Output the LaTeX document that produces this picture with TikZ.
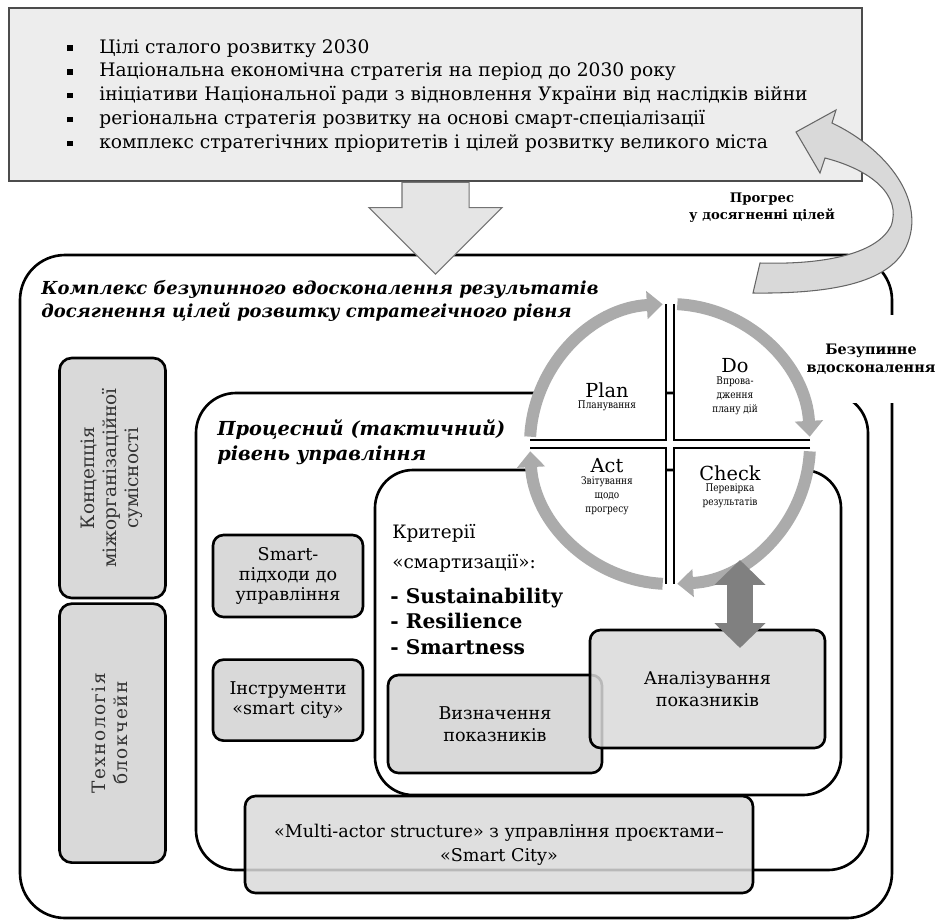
\documentclass[tikz,border=0pt]{standalone}
\usepackage{fontspec}
\setmainfont{DejaVu Serif}
\newfontfamily\narrowfont[FakeStretch=0.85]{DejaVu Serif}
\usepackage{graphicx}
\usepackage{tikz}
\usetikzlibrary{positioning,calc,shapes.arrows,arrows.meta}
\newlength{\unitpx}
\setlength{\unitpx}{0.02cm}
\newcommand{\sqbullet}{\makebox[32\unitpx][l]{\rule[0.25ex]{3.2pt}{3.2pt}}}

\begin{document}
\begin{tikzpicture}[
        x=0.02cm, y=-0.02cm,
        font=\fontsize{10}{12}\selectfont,
        >=Stealth,
        node distance=3\unitpx,
        goals/.style={rectangle,draw=black!70,line width=0.8pt,fill=black!7,minimum width=853\unitpx,minimum height=173\unitpx},
        bullets/.style={align=left,inner sep=0pt,font=\fontsize{10.6}{13.6}\selectfont},
        level/.style={rectangle,draw,line width=1.5pt},
        leveltitle/.style={align=left,inner sep=0pt,font=\bfseries\itshape\fontsize{10.2}{13.5}\selectfont},
        lane/.style={rectangle,draw,line width=1.5pt,rounded corners=7pt,fill=black!15,text=black!80,minimum width=106\unitpx,font=\fontsize{10.5}{12.5}\selectfont},
        greybox/.style={rectangle,draw,line width=1.5pt,rounded corners=6pt,fill=black!15,align=center,inner sep=0pt,font=\fontsize{10}{11.5}\selectfont},
        flowarrow/.style={single arrow,draw=black!55,fill=black!10,line width=0.6pt,inner xsep=0pt,inner ysep=33\unitpx,single arrow head extend=33\unitpx},
        band/.style={draw=black!60,fill=black!15,line width=0.6pt},
        ring/.style={draw=black!33,line width=6.8pt,-{Triangle[width=15.5pt,length=9pt]}},
        quadline/.style={line width=1.5pt},
        phase/.style={inner sep=1pt,font=\fontsize{11}{13}\selectfont},
        phasenote/.style={inner sep=0pt,align=center,font=\narrowfont\fontsize{6}{8}\selectfont},
        critlabel/.style={anchor=west,align=left,inner sep=0pt,font=\fontsize{10.5}{17}\selectfont},
        critlist/.style={anchor=west,align=left,inner sep=0pt,font=\bfseries\fontsize{11.5}{14.5}\selectfont},
        sidenote/.style={align=center,inner sep=0pt,font=\bfseries\fontsize{8.2}{10}\selectfont},
        dblarrow/.style={draw=black!50,line width=14.7pt,{Triangle[width=28.3pt,length=14.2pt]}-{Triangle[width=28.3pt,length=14.2pt]}}
    ]
        \useasboundingbox (0,0) rectangle (938,921);

        % strategic goals
        \node[goals] (goals) at (435.5,94.5) {};
        \node[bullets,anchor=west] (goalslist) at (67,96) {\sqbullet Цілі сталого розвитку 2030\\
            \sqbullet Національна економічна стратегія на період до 2030 року\\
            \sqbullet ініціативи Національної ради з відновлення України від наслідків війни\\
            \sqbullet регіональна стратегія розвитку на основі смарт-спеціалізації\\
            \sqbullet комплекс стратегічних пріоритетів і цілей розвитку великого міста};

        % levels
        \node[level,rounded corners=45\unitpx,minimum width=872\unitpx,minimum height=663\unitpx] (strategic) at (456,586.5) {};
        \node[leveltitle,anchor=west] (strategictitle) at (41,301) {Комплекс безупинного вдосконалення результатів\\досягнення цілей розвитку стратегічного рівня};

        \node[lane,minimum height=240\unitpx] (interop) at (112.5,478) {\rotatebox{90}{\begin{tabular}{@{}c@{}}Концепція\\міжорганізаційної\\сумісності\end{tabular}}};
        \node[lane,minimum height=259\unitpx,below=of interop] (chain) {\rotatebox{90}{\addfontfeature{LetterSpace=8}\begin{tabular}{@{}c@{}}Технологія\\блокчейн\end{tabular}}};

        \node[level,rounded corners=40\unitpx,minimum width=672\unitpx,minimum height=477\unitpx] (tactical) at (532,631.5) {};
        \node[leveltitle,anchor=west,font=\bfseries\itshape\fontsize{11}{14}\selectfont] (tacticaltitle) at (217,442.5) {Процесний (тактичний)\\рівень управління};

        \node[greybox,minimum width=150\unitpx,minimum height=82\unitpx] (smart) at (288,576) {Smart-\\підходи до\\управління};
        \node[greybox,minimum width=150\unitpx,minimum height=81\unitpx,below=40\unitpx of smart] (tools) {Інструменти\\«smart city»};

        \node[level,rounded corners=38\unitpx,minimum width=466\unitpx,minimum height=325\unitpx] (criteria) at (608,632.5) {};
        \node[critlabel] (critname) at (392,548) {Критерії\\«смартизації»:};
        \node[critlist] (crititems) at (390,621) {- Sustainability\\- Resilience\\- Smartness};

        \node[greybox,minimum width=214\unitpx,minimum height=98\unitpx,font=\fontsize{10}{12.5}\selectfont] (define) at (495,724) {Визначення\\показників};
        \node[greybox,fill opacity=0.85,text opacity=1,minimum width=235\unitpx,minimum height=118\unitpx,font=\fontsize{10}{12.5}\selectfont] (analyse) at (707.5,689) {Аналізування\\показників};
        \node[greybox,fill opacity=0.85,text opacity=1,minimum width=508\unitpx,minimum height=97\unitpx,font=\fontsize{10}{13.6}\selectfont] (multi) at (499,844.5) {«Multi-actor structure» з управління проєктами–\\«Smart City»};

        \node[sidenote,fill=white,minimum height=88\unitpx] (kaizen) at (871,359) {Безупинне\\вдосконалення};

        % PDCA
        \coordinate (hub) at (670,444);
        \fill[white] (hub) ++(-4,-4) -- ++(-136,0) arc[start angle=-180,end angle=-90,radius=136] -- cycle;
        \fill[white] (hub) ++(4,-4) -- ++(0,-136) arc[start angle=-90,end angle=0,radius=136] -- cycle;
        \fill[white] (hub) ++(4,4) -- ++(136,0) arc[start angle=0,end angle=90,radius=136] -- cycle;
        \fill[white] (hub) ++(-4,4) -- ++(0,136) arc[start angle=90,end angle=180,radius=136] -- cycle;
        \draw[quadline] (hub) ++(-140,-4) -- ++(136,0) -- ++(0,-136);
        \draw[quadline] (hub) ++(140,-4) -- ++(-136,0) -- ++(0,-136);
        \draw[quadline] (hub) ++(140,4) -- ++(-136,0) -- ++(0,136);
        \draw[quadline] (hub) ++(-140,4) -- ++(136,0) -- ++(0,136);
        \draw[ring] (hub) ++(-177:140) arc[start angle=-177,end angle=-93,radius=140];
        \draw[ring] (hub) ++(-87:140) arc[start angle=-87,end angle=-3,radius=140];
        \draw[ring] (hub) ++(3:140) arc[start angle=3,end angle=87,radius=140];
        \draw[ring] (hub) ++(93:140) arc[start angle=93,end angle=177,radius=140];

        \node[phase] (plan) at (607,390) {Plan};
        \node[phasenote,below=1\unitpx of plan] (plannote) {Планування};
        \node[phase] (do) at (735,366) {Do};
        \node[phasenote,below=1\unitpx of do] (donote) {Впрова-\\дження\\плану дій};
        \node[phase] (act) at (607,466) {Act};
        \node[phasenote,below=1\unitpx of act] (actnote) {Звітування\\щодо\\прогресу};
        \node[phase] (check) at (730,473) {Check};
        \node[phasenote,below=1\unitpx of check] (checknote) {Перевірка\\результатів};

        \coordinate (ringfoot) at (740,560);
        \coordinate (analysein) at (740,648);
        \draw[dblarrow] (ringfoot) -- (analysein);

        % goals -> levels and feedback
        \node[flowarrow,rotate=-90,anchor=tail,minimum height=92\unitpx,minimum width=132\unitpx] (flow) at (goals.south) {};
        \filldraw[band] (796,132) -- (836,110) -- (832,123)
            .. controls (885,148) and (928,200) .. (906,247)
            .. controls (890,280) and (840,294) .. (753,293)
            -- (760,263)
            .. controls (830,265) and (878,252) .. (891,226)
            .. controls (902,196) and (872,170) .. (825,158)
            -- (820,173) -- cycle;
        \node[sidenote,font=\bfseries\fontsize{7.5}{9.6}\selectfont] (progress) at (762,208) {Прогрес\\у досягненні цілей};
    \end{tikzpicture}
\end{document}
